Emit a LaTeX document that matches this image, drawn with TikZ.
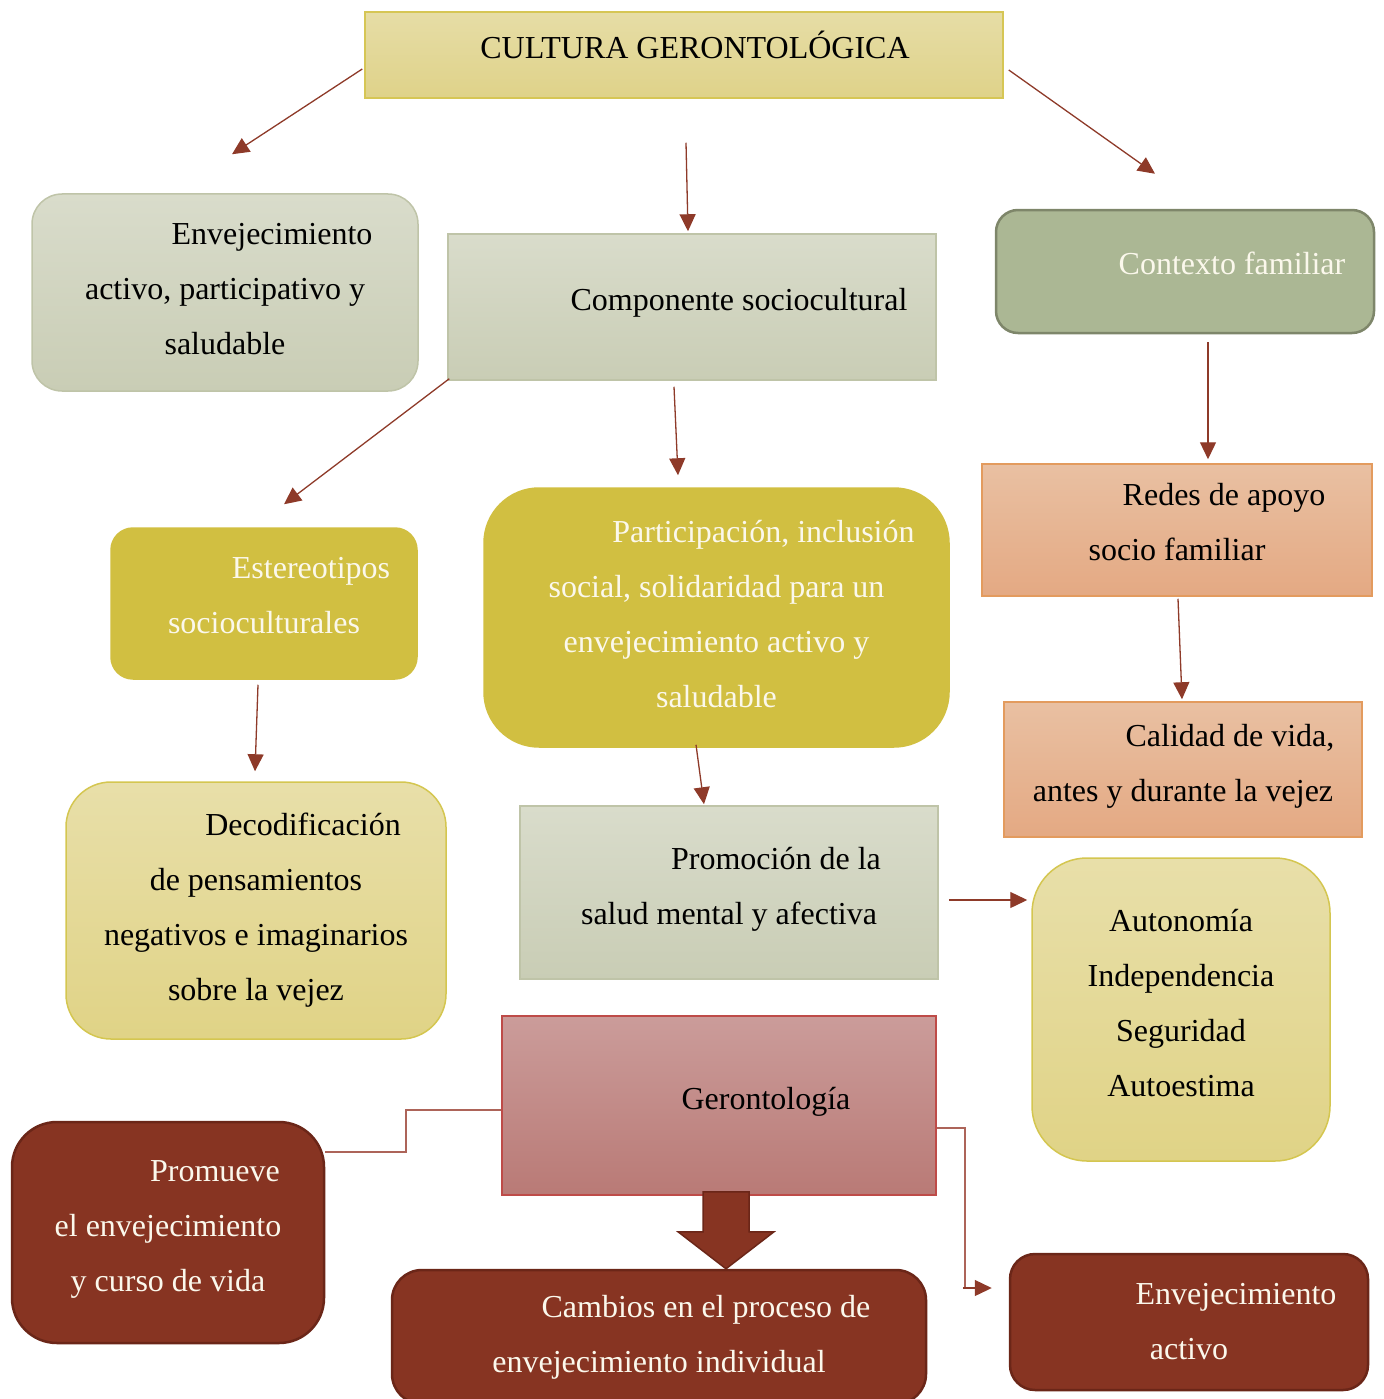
\documentclass[tikz,border=0pt]{standalone}
\usepackage{fontspec}
\setmainfont{Liberation Serif}
\usetikzlibrary{arrows.meta,calc}

\definecolor{flechacol}{HTML}{8E3A29}
\definecolor{lineacol}{HTML}{AD6459}
\definecolor{vinocol}{HTML}{873422}
\definecolor{vinoborde}{HTML}{6B2618}
\definecolor{mostazacol}{HTML}{D1BF41}
\definecolor{olivocol}{HTML}{ABB794}
\definecolor{olivoborde}{HTML}{7E866A}
\definecolor{letraclara}{HTML}{FBF8EC}
\definecolor{tituloarr}{HTML}{E6DDA6}
\definecolor{tituloab}{HTML}{DFD289}
\definecolor{tituloborde}{HTML}{D6C655}
\definecolor{grisarr}{HTML}{D9DCCB}
\definecolor{grisab}{HTML}{C9CDB5}
\definecolor{grisborde}{HTML}{BFC4A8}
\definecolor{duraznoarr}{HTML}{E9C0A2}
\definecolor{duraznoab}{HTML}{E4A983}
\definecolor{duraznoborde}{HTML}{E39B5E}
\definecolor{cremaarr}{HTML}{E8DFA9}
\definecolor{cremaab}{HTML}{E0D386}
\definecolor{cremaborde}{HTML}{D4C650}
\definecolor{rosaarr}{HTML}{CB9C9A}
\definecolor{rosaab}{HTML}{B97A76}
\definecolor{rosaborde}{HTML}{BE4B48}

\newcommand{\sangria}{\hspace*{94pt}}
% extra depth under the last line, lifts the text in its box
\newcommand{\subir}[1]{\rule[-#1]{0pt}{0pt}}

\begin{document}
\begin{tikzpicture}[x=1pt,y=-1pt,
  caja/.style={draw, line width=1.5pt, align=center, inner sep=0pt,
    font=\fontsize{32}{55}\selectfont},
  titulo/.style={caja, top color=tituloarr, bottom color=tituloab, draw=tituloborde},
  verdegris/.style={caja, top color=grisarr, bottom color=grisab, draw=grisborde},
  olivo/.style={caja, fill=olivocol, draw=olivoborde, line width=2.5pt, text=letraclara},
  mostaza/.style={caja, fill=mostazacol, draw=mostazacol, text=letraclara},
  durazno/.style={caja, top color=duraznoarr, bottom color=duraznoab, draw=duraznoborde},
  crema/.style={caja, top color=cremaarr, bottom color=cremaab, draw=cremaborde},
  rosa/.style={caja, top color=rosaarr, bottom color=rosaab, draw=rosaborde, line width=2pt},
  vino/.style={caja, fill=vinocol, draw=vinoborde, line width=2.5pt, text=letraclara},
  flecha/.style={draw=flechacol, line width=1.3pt, -{Triangle[length=17pt,width=16pt]}},
  linea/.style={draw=lineacol, line width=2pt},
  bloque/.style={fill=vinocol, draw=vinoborde, line width=1.5pt, line join=miter}]

\useasboundingbox (0,0) rectangle (1383,1399);

% boxes
\node[titulo, minimum width=638pt, minimum height=86pt] (Cultura) at (684,55) {\hspace*{22pt}CULTURA GERONTOLÓGICA\subir{20pt}};
\node[verdegris, rounded corners=30pt, minimum width=386pt, minimum height=197pt] (Activo) at (225,292.5)
  {\sangria Envejecimiento\\ activo, participativo y\\ saludable\subir{8pt}};
\node[verdegris, minimum width=488pt, minimum height=146pt] (Socio) at (692,307) {\sangria Componente sociocultural\subir{15pt}};
\node[olivo, rounded corners=22pt, minimum width=378pt, minimum height=123pt] (Familia) at (1185,271.5) {\sangria Contexto familiar\subir{16pt}};
\node[mostaza, rounded corners=22pt, minimum width=306pt, minimum height=151pt] (Estereo) at (264,603.5)
  {\sangria Estereotipos\\ socioculturales\subir{16pt}};
\node[mostaza, rounded corners=55pt, minimum width=465pt, minimum height=259pt] (Partic) at (716.5,617.5)
  {\sangria Participación, inclusión\\ social, solidaridad para un\\ envejecimiento activo y\\ saludable\subir{8pt}};
\node[durazno, minimum width=390pt, minimum height=132pt] (Redes) at (1177,530) {\sangria Redes de apoyo\\ socio familiar\subir{16pt}};
\node[durazno, minimum width=358pt, minimum height=135pt] (Calidad) at (1183,769.5) {\sangria Calidad de vida,\\ antes y durante la vejez\subir{13pt}};
\node[crema, rounded corners=45pt, minimum width=380pt, minimum height=257pt] (Decod) at (256,910.5)
  {\sangria Decodificación\\ de pensamientos\\ negativos e imaginarios\\ sobre la vejez};
\node[verdegris, minimum width=418pt, minimum height=173pt] (Promo) at (729,892.5) {\sangria Promoción de la\\ salud mental y afectiva\subir{13pt}};
\node[crema, rounded corners=55pt, minimum width=298pt, minimum height=303pt] (Auto) at (1181,1009.5)
  {Autonomía\\ Independencia\\ Seguridad\\ Autoestima\subir{14pt}};
\node[rosa, minimum width=434pt, minimum height=179pt] (Geronto) at (719,1105.5) {\sangria Gerontología\subir{15pt}};
\node[vino, rounded corners=45pt, minimum width=312pt, minimum height=221pt] (Promueve) at (168,1232.5)
  {\sangria Promueve\\ el envejecimiento\\ y curso de vida\subir{13pt}};
\node[vino, rounded corners=30pt, minimum width=534pt, minimum height=134pt] (Cambios) at (659,1337)
  {\sangria Cambios en el proceso de\\ envejecimiento individual};
\node[vino, rounded corners=25pt, minimum width=358pt, minimum height=136pt] (EnvAct) at (1189,1322) {\sangria Envejecimiento\\ activo};

% arrows
\path[every edge/.style={flecha}]
([shift={(-2,14)}]Cultura.west) edge ([shift={(7,-39)}]Activo.north)
([shift={(2,44)}]Cultura.south) edge ([shift={(-4,-2)}]Socio.north)
([shift={(5,15)}]Cultura.east) edge ([shift={(-30,-35)}]Familia.north)
([shift={(23,8)}]Familia.south) edge ([shift={(31,-4)}]Redes.north)
([shift={(2,-2)}]Socio.south west) edge ([shift={(20,-23)}]Estereo.north)
([shift={(-18,6)}]Socio.south) edge ([shift={(-38.5,-12)}]Partic.north)
([shift={(1,2)}]Redes.south) edge ([shift={(-1,-2)}]Calidad.north)
([shift={(-6,5)}]Estereo.south) edge ([shift={(-1,-10)}]Decod.north)
([shift={(-20.5,-3)}]Partic.south) edge ([shift={(-25,-1)}]Promo.north)
([shift={(10,7.5)}]Promo.east) edge ([shift={(-4,-109.5)}]Auto.west);

% elbows from Gerontologia
\draw[linea] ([shift={(0,4.5)}]Geronto.west) -- ++(-95,0) |- ([shift={(0,-80.5)}]Promueve.east);
\draw[linea] ([shift={(0,22.5)}]Geronto.east) -- ++(28,0) |- ([shift={(-35,-34)}]EnvAct.west);
\draw[flecha] ([shift={(-46,-34)}]EnvAct.west) -- ([shift={(-17,-34)}]EnvAct.west);

% block arrow
\coordinate (punta) at ([shift={(67,0)}]Cambios.north);
\draw[bloque] (punta) -- ++(-48,-37) -- ++(25,0) -- ++(0,-40) -- ++(46,0) -- ++(0,40) -- ++(25,0) -- cycle;
\end{tikzpicture}
\end{document}
